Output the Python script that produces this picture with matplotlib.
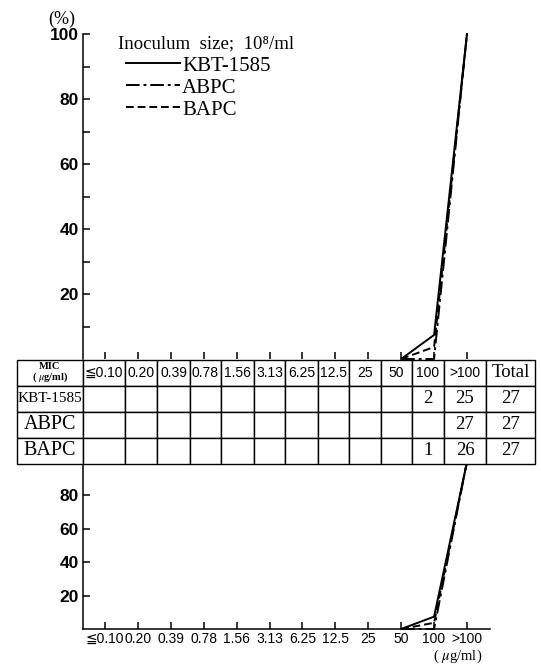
import matplotlib
matplotlib.use("Agg")
import matplotlib.pyplot as plt
from matplotlib.lines import Line2D

SANS = ['Liberation Sans', 'DejaVu Sans']
SERIF = ['Liberation Serif', 'DejaVu Serif']
plt.rcParams['font.family'] = SANS
plt.rcParams['mathtext.fontset'] = 'stix'

# MIC categories (x axis and table header)
mic = ['≦0.10', '0.20', '0.39', '0.78', '1.56', '3.13', '6.25', '12.5', '25', '50', '100', '>100']
drugs = ['KBT-1585', 'ABPC', 'BAPC']

# number of strains at each MIC (0 = empty cell)
n_kbt = [0, 0, 0, 0, 0, 0, 0, 0, 0, 0, 2, 25]
n_abpc = [0, 0, 0, 0, 0, 0, 0, 0, 0, 0, 0, 27]
n_bapc = [0, 0, 0, 0, 0, 0, 0, 0, 0, 0, 1, 26]
totals = [27, 27, 27]

# cumulative % (both panels)
curve_mic = ['50', '100', '>100']
pct_kbt = [0, 7.4, 100]
pct_abpc = [0, 0, 100]
pct_bapc = [0, 3.7, 100]

W, H = 541, 666

def px(l, t, r, b):
    # pixel box -> figure fraction
    return [l / W, 1 - b / H, (r - l) / W, (b - t) / H]

fig = plt.figure(figsize=(W / 100, H / 100), dpi=100)

styles = ['-', (0, (7, 2, 1.5, 2)), (0, (4, 2))]
series = [pct_kbt, pct_abpc, pct_bapc]
xs = [mic.index(m) for m in curve_mic]
xlim = (-0.669, 11.70)

def setup(ax):
    ax.set_xlim(*xlim)
    ax.set_ylim(0, 100)
    ax.spines['top'].set_visible(False)
    ax.spines['right'].set_visible(False)
    for s in ax.spines.values():
        s.set_linewidth(1.1)
    ax.tick_params(direction='in', length=5, width=1.1)
    ax.set_xticks(range(len(mic)))
    for vals, ls in zip(series, styles):
        ax.plot(xs, vals, color='k', lw=1.4, linestyle=ls, clip_on=False)

# upper panel
ax1 = fig.add_axes(px(83, 34, 490, 359))
setup(ax1)
ax1.spines['bottom'].set_visible(False)
ax1.set_xticklabels([])
ax1.set_yticks([20, 40, 60, 80, 100])
ax1.set_yticks([10, 30, 50, 70, 90], minor=True)
ax1.tick_params(axis='y', which='both', direction='in', length=5, width=1.1, pad=3, labelsize=12.5)
for t in ax1.get_yticklabels():
    t.set_fontweight('bold')

# lower panel
ax2 = fig.add_axes(px(83, 462, 490, 629))
setup(ax2)
ax2.set_yticks([20, 40, 60, 80])
ax2.set_xticklabels(mic, fontsize=10)
ax2.tick_params(axis='x', pad=2)
ax2.tick_params(axis='y', pad=3, labelsize=12.5)
for t in ax2.get_yticklabels():
    t.set_fontweight('bold')

# legend
fig.text(118 / W, 1 - 44 / H, 'Inoculum  size;  10⁸/ml', family=SERIF,
         fontsize=13.5, va='center', ha='left')
handles = [Line2D([], [], color='k', lw=1.4, linestyle=ls) for ls in styles]
ax1.legend(handles, drugs, loc='upper left', bbox_to_anchor=(126 / W, 1 - 56 / H),
           bbox_transform=fig.transFigure, frameon=False, borderpad=0, borderaxespad=0,
           handlelength=2.6, handletextpad=0.1, labelspacing=0.12,
           prop={'family': SERIF, 'size': 15})

fig.text(62 / W, 1 - 19 / H, '(%)', family=SERIF, fontsize=13, ha='center', va='center')
fig.text(458 / W, 1 - 660 / H, r'( $\mu$g/ml)', family=SERIF, fontsize=10.5,
         ha='center', va='baseline')

# table
col_px = [66, 42, 32, 33, 31, 33, 31, 33, 31, 32, 31, 32, 42, 49]
tax = fig.add_axes(px(17, 360, 535, 464))
tax.axis('off')
header = ['MIC\n( $\\mu$g/ml)'] + mic + ['Total']
rows = [header]
for name, n, tot in zip(drugs, [n_kbt, n_abpc, n_bapc], totals):
    rows.append([name] + [str(v) if v else '' for v in n] + [str(tot)])
tab = tax.table(cellText=rows, colWidths=[w / sum(col_px) for w in col_px],
                bbox=[0, 0, 1, 1], cellLoc='center')
tab.auto_set_font_size(False)
for (r, c), cell in tab.get_celld().items():
    cell.set_linewidth(1.0)
    cell.set_edgecolor('k')
    txt = cell.get_text()
    if r == 0:
        if c == 0:
            txt.set_fontfamily(SERIF)
            txt.set_fontsize(7.5)
            txt.set_fontweight('bold')
            txt.set_linespacing(0.85)
        elif c == len(header) - 1:
            txt.set_fontfamily(SERIF)
            txt.set_fontsize(13.5)
        else:
            txt.set_fontsize(10)
    else:
        txt.set_fontfamily(SERIF)
        if c == 0:
            txt.set_fontsize(11 if rows[r][0] == 'KBT-1585' else 14.5)
        else:
            txt.set_fontsize(13.5)

fig.savefig('out.png', dpi=100)
